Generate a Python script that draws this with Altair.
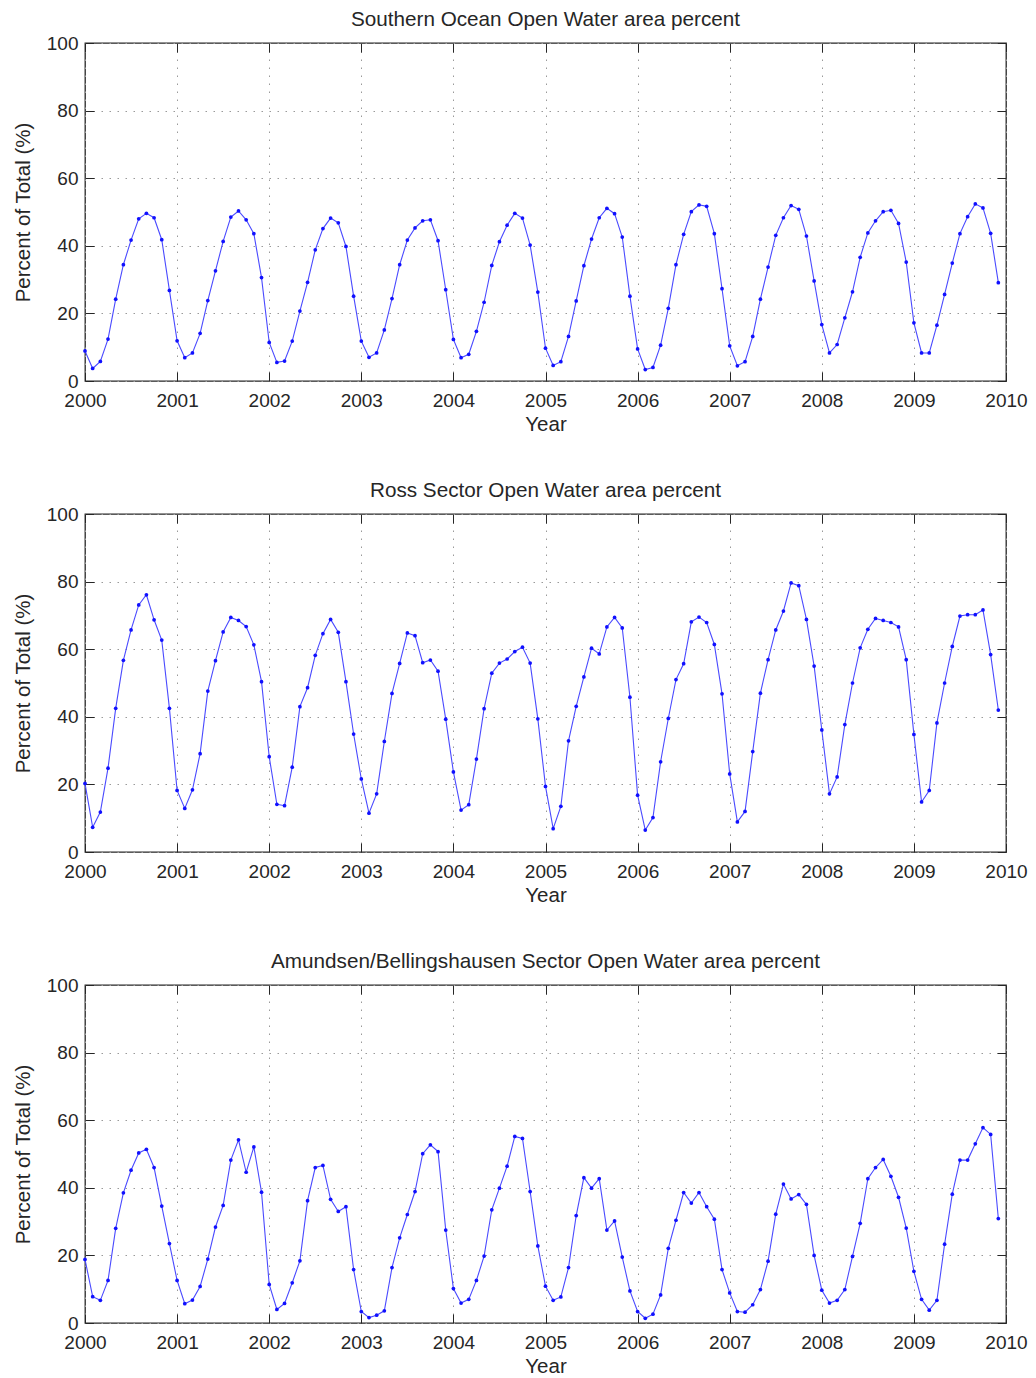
import altair as alt
import pandas as pd

# ---- data (monthly, Jan 2000 .. Dec 2009) ----
YEAR_TICKS = [2000, 2001, 2002, 2003, 2004, 2005, 2006, 2007, 2008, 2009, 2010]
PCT_TICKS = [0, 20, 40, 60, 80, 100]
START_YEAR = 2000

southern_ocean = [
    8.9, 3.7, 5.8, 12.4, 24.2, 34.4, 41.7, 48.0, 49.6, 48.3, 41.8, 26.8,
    11.9, 6.9, 8.3, 14.1, 23.8, 32.6, 41.3, 48.5, 50.3, 47.7, 43.6, 30.6,
    11.4, 5.5, 5.9, 11.8, 20.7, 29.2, 38.8, 45.1, 48.2, 46.8, 39.8, 25.1,
    11.8, 7.0, 8.3, 15.1, 24.4, 34.4, 41.7, 45.3, 47.4, 47.7, 41.5, 27.0,
    12.3, 6.9, 7.9, 14.7, 23.3, 34.2, 41.2, 46.1, 49.6, 48.2, 40.2, 26.3,
    9.7, 4.6, 5.7, 13.2, 23.7, 34.1, 42.0, 48.3, 51.1, 49.5, 42.6, 25.1,
    9.5, 3.4, 4.0, 10.6, 21.5, 34.4, 43.4, 50.1, 52.1, 51.7, 43.6, 27.3,
    10.4, 4.5, 5.7, 13.2, 24.2, 33.7, 43.1, 48.3, 51.9, 50.8, 42.9, 29.6,
    16.7, 8.3, 10.8, 18.7, 26.4, 36.6, 43.8, 47.4, 50.1, 50.5, 46.6, 35.2,
    17.2, 8.3, 8.3, 16.5, 25.6, 34.9, 43.6, 48.6, 52.4, 51.2, 43.7, 29.1,
]

ross_sector = [
    20.3, 7.3, 11.8, 24.8, 42.5, 56.7, 65.7, 73.1, 76.1, 68.7, 62.7, 42.5,
    18.2, 12.9, 18.4, 29.1, 47.6, 56.6, 65.1, 69.4, 68.5, 66.7, 61.3, 50.4,
    28.2, 14.1, 13.7, 25.1, 43.0, 48.6, 58.2, 64.6, 68.8, 65.0, 50.4, 34.9,
    21.6, 11.5, 17.2, 32.7, 46.9, 55.8, 64.8, 64.0, 56.0, 56.8, 53.5, 39.3,
    23.7, 12.4, 14.0, 27.5, 42.4, 52.9, 55.9, 57.1, 59.3, 60.6, 55.9, 39.4,
    19.4, 6.9, 13.5, 32.9, 43.1, 51.8, 60.3, 58.6, 66.6, 69.4, 66.3, 45.8,
    16.8, 6.5, 10.2, 26.7, 39.5, 51.0, 55.7, 68.1, 69.5, 67.9, 61.4, 46.8,
    23.1, 8.9, 12.0, 29.7, 47.0, 56.9, 65.7, 71.3, 79.6, 78.8, 68.8, 55.0,
    36.1, 17.2, 22.2, 37.7, 50.0, 60.4, 65.9, 69.1, 68.5, 67.9, 66.6, 56.9,
    34.8, 14.8, 18.2, 38.2, 50.0, 60.8, 69.8, 70.2, 70.2, 71.6, 58.4, 42.0,
]

amundsen_bellingshausen = [
    18.8, 7.8, 6.7, 12.6, 28.0, 38.5, 45.2, 50.3, 51.4, 46.0, 34.6, 23.5,
    12.6, 5.7, 6.8, 10.8, 18.9, 28.4, 34.8, 48.2, 54.2, 44.6, 52.1, 38.7,
    11.4, 4.0, 5.8, 11.9, 18.4, 36.2, 46.0, 46.6, 36.6, 33.0, 34.4, 15.8,
    3.4, 1.6, 2.3, 3.6, 16.4, 25.2, 32.1, 38.9, 50.1, 52.7, 50.7, 27.5,
    10.2, 5.9, 7.0, 12.6, 19.8, 33.5, 39.9, 46.4, 55.2, 54.6, 38.9, 22.8,
    10.9, 6.7, 7.7, 16.4, 31.8, 43.0, 39.9, 42.7, 27.5, 30.2, 19.5, 9.5,
    3.4, 1.4, 2.6, 8.3, 22.1, 30.4, 38.6, 35.5, 38.6, 34.4, 30.7, 15.8,
    8.9, 3.4, 3.2, 5.4, 9.9, 18.3, 32.2, 41.1, 36.7, 38.0, 35.1, 20.0,
    9.7, 5.9, 6.7, 9.9, 19.7, 29.5, 42.7, 46.0, 48.4, 43.4, 37.2, 28.1,
    15.3, 7.0, 3.8, 6.7, 23.3, 38.1, 48.2, 48.2, 53.0, 57.8, 55.8, 30.9,
]

panel_titles = [
    "Southern Ocean Open Water area percent",
    "Ross Sector Open Water area percent",
    "Amundsen/Bellingshausen Sector Open Water area percent",
]
x_title = "Year"
y_title = "Percent of Total (%)"

# ---- style ----
FONT = "Liberation Sans"
TXT = "#262626"
LINE_C = "#4a4aff"
PT_C = "#1010ff"
W, H = 921, 338
TICK = 9

def panel(values, title):
    df = pd.DataFrame({
        "t": [START_YEAR + i / 12 for i in range(len(values))],
        "v": values,
    })
    xs = alt.Scale(domain=[2000, 2010], nice=False, zero=False)
    ys = alt.Scale(domain=[0, 100], nice=False)
    base_ax = dict(tickSize=TICK, offset=-TICK, domain=False, tickColor=TXT,
                   tickWidth=1, labelFont=FONT, labelFontSize=19, labelColor=TXT,
                   titleFont=FONT, titleFontSize=20.5, titleColor=TXT,
                   titleFontWeight="normal")
    line = alt.Chart(df).mark_line(color=LINE_C, strokeWidth=1.1).encode(
        x=alt.X("t:Q", scale=xs, axis=alt.Axis(
            orient="bottom", values=YEAR_TICKS, format="d", title=x_title,
            grid=True, gridColor="#9a9a9a", gridDash=[1.5, 6.5], gridWidth=1,
            labelPadding=10, titlePadding=4, labelOverlap=False, labelFlush=False,
            **base_ax)),
        y=alt.Y("v:Q", scale=ys, axis=alt.Axis(
            orient="left", values=PCT_TICKS, title=y_title,
            grid=True, gridColor="#9a9a9a", gridDash=[1.5, 6.5], gridWidth=1,
            labelPadding=7, titlePadding=13, **base_ax)),
    )
    pts = alt.Chart(df).mark_point(filled=True, size=14, color=PT_C, opacity=1).encode(
        x=alt.X("t:Q", scale=xs, axis=alt.Axis(
            orient="top", values=YEAR_TICKS, labels=False, title="", grid=False,
            **base_ax)),
        y=alt.Y("v:Q", scale=ys, axis=alt.Axis(
            orient="right", values=PCT_TICKS, labels=False, title="", grid=False,
            **base_ax)),
    )
    return alt.layer(line, pts).resolve_axis(x="independent", y="independent").properties(
        width=W, height=H,
        title=alt.TitleParams(title, font=FONT, fontSize=20.7, fontWeight="normal",
                              color=TXT, anchor="middle", frame="group", offset=3),
    )

chart = alt.vconcat(
    panel(southern_ocean, panel_titles[0]),
    panel(ross_sector, panel_titles[1]),
    panel(amundsen_bellingshausen, panel_titles[2]),
    spacing=43,
).properties(
    padding={"left": 12, "top": 8, "right": 5, "bottom": 5},
    background="white",
).configure_view(stroke=TXT, strokeWidth=1.3)

chart.save("out.html", embed_options={"renderer": "svg", "actions": False})
